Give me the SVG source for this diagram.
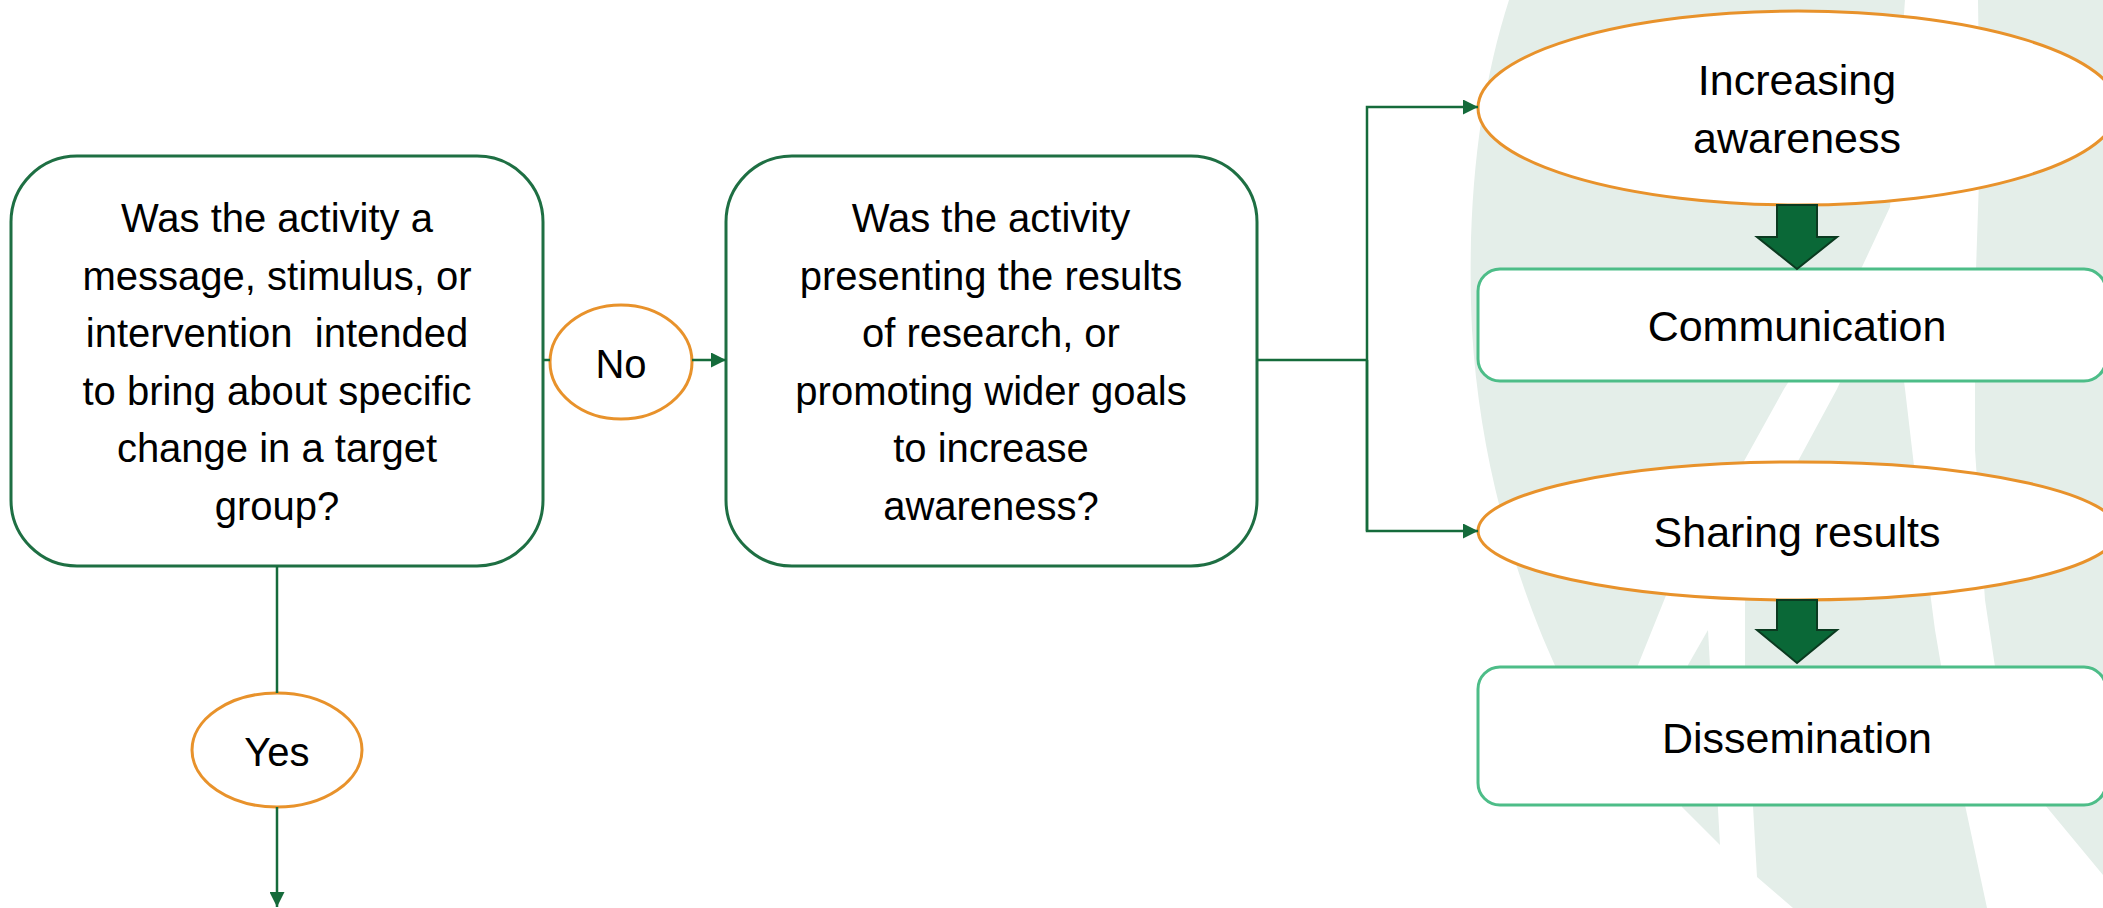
<svg xmlns="http://www.w3.org/2000/svg" width="2103" height="908" viewBox="0 0 2103 908">
  <defs>
    <style>
      .bg { fill: #E4EEE9; stroke: none; }
      .q { fill: #FFFFFF; stroke: #1E6F43; stroke-width: 3; }
      .oval { fill: #FFFFFF; stroke: #E8922B; stroke-width: 3; }
      .res { fill: #FFFFFF; stroke: #4DBD88; stroke-width: 3; }
      .t { font-family: "Liberation Sans", Arial, sans-serif; fill: #000000; text-anchor: middle; }
      .tq { font-size: 40px; }
      .tr { font-size: 43px; }
      .tl { font-size: 40px; }
      .conn { fill: none; stroke: #156B3B; stroke-width: 2.5; }
      .blk { fill: #0A6837; stroke: #0B3A20; stroke-width: 2; stroke-linejoin: miter; }
    </style>
    <marker id="ah" viewBox="0 0 10 10" refX="10" refY="5" markerWidth="15" markerHeight="15" markerUnits="userSpaceOnUse" orient="auto">
      <path d="M0,0 L10,5 L0,10 Z" fill="#156B3B"/>
    </marker>
  </defs>

  <rect x="0" y="0" width="2103" height="908" fill="#FFFFFF"/>

  <g id="background">
    <path class="bg" d="M1509,0 L1905,0 L1890,207 L1862,267 L1784,389 L1743,463 L1667,593 L1638,665 L1612,770 C1540,660 1482,500 1472,330 C1466,200 1480,90 1509,0 Z"/>
    <path class="bg" d="M1890,275 L1905,389 L1918,500 L1935,630 L1965,805 L1987,908 L1793,908 L1757,877 L1745,665 L1745,560 L1797,463 L1837,389 Z"/>
    <path class="bg" d="M1708,630 L1720,845 L1682,807 L1688,665 Z"/>
    <path class="bg" d="M1978,0 L2103,0 L2103,875 L2045,805 L2000,700 L1985,600 L1975,450 L1975,300 L1980,150 Z"/>
  </g>

  <g id="node-q1">
    <rect class="q" x="11" y="156" width="532" height="410" rx="66" ry="66"/>
    <text class="t tq" x="277" y="232">Was the activity a</text>
    <text class="t tq" x="277" y="289.5">message, stimulus, or</text>
    <text class="t tq" x="277" y="347" xml:space="preserve">intervention  intended</text>
    <text class="t tq" x="277" y="404.5">to bring about specific</text>
    <text class="t tq" x="277" y="462">change in a target</text>
    <text class="t tq" x="277" y="519.5">group?</text>
  </g>

  <g id="node-no">
    <ellipse class="oval" cx="621" cy="362" rx="71" ry="57"/>
    <text class="t tl" x="621" y="378">No</text>
  </g>

  <g id="node-q2">
    <rect class="q" x="726" y="156" width="531" height="410" rx="66" ry="66"/>
    <text class="t tq" x="991" y="232">Was the activity</text>
    <text class="t tq" x="991" y="289.5">presenting the results</text>
    <text class="t tq" x="991" y="347">of research, or</text>
    <text class="t tq" x="991" y="404.5">promoting wider goals</text>
    <text class="t tq" x="991" y="462">to increase</text>
    <text class="t tq" x="991" y="519.5">awareness?</text>
  </g>

  <g id="node-yes">
    <ellipse class="oval" cx="277" cy="750" rx="85" ry="57"/>
    <text class="t tl" x="277" y="766">Yes</text>
  </g>

  <g id="node-increasing">
    <ellipse class="oval" cx="1798" cy="108" rx="320" ry="97"/>
    <text class="t tr" x="1797" y="95">Increasing</text>
    <text class="t tr" x="1797" y="153">awareness</text>
  </g>

  <g id="node-communication">
    <rect class="res" x="1478" y="269" width="628" height="112" rx="22" ry="22"/>
    <text class="t tr" x="1797" y="341">Communication</text>
  </g>

  <g id="node-sharing">
    <ellipse class="oval" cx="1798" cy="531" rx="320" ry="69"/>
    <text class="t tr" x="1797" y="547">Sharing results</text>
  </g>

  <g id="node-dissemination">
    <rect class="res" x="1478" y="667" width="628" height="138" rx="22" ry="22"/>
    <text class="t tr" x="1797" y="753">Dissemination</text>
  </g>

  <g id="connectors">
    <line class="conn" x1="543" y1="360" x2="550" y2="360"/>
    <line class="conn" x1="692" y1="360" x2="726" y2="360" marker-end="url(#ah)"/>
    <polyline class="conn" points="1257,360 1367,360"/>
    <polyline class="conn" points="1367,531 1367,107 1478,107" marker-end="url(#ah)"/>
    <polyline class="conn" points="1367,360 1367,531 1478,531" marker-end="url(#ah)"/>
    <line class="conn" x1="277" y1="566" x2="277" y2="693"/>
    <line class="conn" x1="277" y1="807" x2="277" y2="907" marker-end="url(#ah)"/>
    <path class="blk" d="M1777,205 L1817,205 L1817,237 L1837,237 L1797,269 L1757,237 L1777,237 Z"/>
    <path class="blk" d="M1777,600 L1817,600 L1817,630 L1837,630 L1797,663 L1757,630 L1777,630 Z"/>
  </g>
</svg>
